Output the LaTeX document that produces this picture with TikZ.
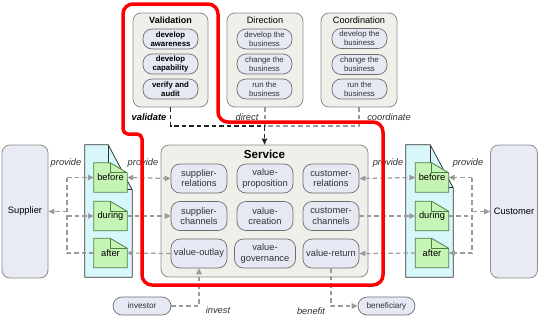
\documentclass[tikz,border=0pt]{standalone}
\usepackage{fontspec}
\setmainfont{Liberation Sans}
\usetikzlibrary{arrows.meta}
\pgfdeclarelayer{back}\pgfdeclarelayer{mid}
\pgfsetlayers{back,mid,main}
\definecolor{boxfill}{HTML}{F0F0EA}
\definecolor{boxline}{HTML}{8C8C8C}
\definecolor{innerfill}{HTML}{E6E9F4}
\definecolor{innerline}{HTML}{6E6E6E}
\definecolor{actfill}{HTML}{E8EBF4}
\definecolor{bigdocfill}{HTML}{D8F7FB}
\definecolor{smalldocfill}{HTML}{C6F4B4}
\definecolor{smalldocline}{HTML}{4F7F45}
\definecolor{conn}{HTML}{9A9A9A}
\definecolor{txt}{HTML}{333333}
\definecolor{redline}{HTML}{FF0000}
\newcommand\mydoc[4]{%
  \draw[#4] (#1.north west) -- ([xshift=-#2]#1.north east) -- ([yshift=-#3]#1.north east) -- (#1.south east) -- (#1.south west) -- cycle;
  \draw[#4,fill=none] ([xshift=-#2]#1.north east) |- ([yshift=-#3]#1.north east);}
\tikzset{
  fnt/.style={font=\fontsize{9.3}{10.3}\selectfont},
  smallfnt/.style={font=\fontsize{7.8}{9.2}\selectfont},
  outerbox/.style={draw=boxline, fill=boxfill, rounded corners=8pt, line width=0.8pt},
  svcitem/.style={draw=innerline, fill=innerfill, rounded corners=9pt, line width=0.7pt,
    minimum width=56pt, minimum height=29pt, inner sep=1pt, align=center, fnt, text=txt},
  topitem/.style={draw=innerline, fill=innerfill, rounded corners=9pt, line width=0.7pt,
    minimum width=55pt, minimum height=20pt, inner sep=0.5pt, align=center, smallfnt, text=txt},
  actor/.style={draw=boxline, fill=actfill, rounded corners=8pt, line width=0.8pt,
    minimum width=46pt, minimum height=133pt, fnt, text=black},
  party/.style={draw=innerline, fill=innerfill, rounded corners=9pt, line width=0.7pt,
    minimum width=58pt, minimum height=18pt, inner sep=0pt, font=\fontsize{8.2}{9}\selectfont, text=txt},
  docnode/.style={minimum width=33pt, minimum height=29pt, inner sep=0pt, fnt, text=black},
  bigdocnode/.style={minimum width=47pt, minimum height=132pt, inner sep=0pt},
  bigdocshape/.style={fill=bigdocfill, draw=black!80, line width=0.8pt},
  smalldocshape/.style={fill=smalldocfill, draw=smalldocline, line width=0.8pt},
  gline/.style={draw=conn, line width=1.2pt, dash pattern=on 4.5pt off 3pt},
  kline/.style={draw=black!85, line width=1.2pt, dash pattern=on 4.5pt off 3pt},
  tip/.tip={Triangle[length=6pt,width=5.5pt]},
  lbl/.style={fnt, font=\fontsize{9.3}{10.3}\selectfont\itshape, text=txt, inner sep=0pt},
  title/.style={inner sep=0pt, text=black}
}
\begin{document}
\begin{tikzpicture}[x=1pt,y=-1pt]
\useasboundingbox (0,0) rectangle (539,317);
% top boxes
\node[outerbox, minimum width=75pt, minimum height=94pt] (val) at (170.5,60) {};
\node[outerbox, minimum width=76pt, minimum height=94pt] (dir) at (265,60) {};
\node[outerbox, minimum width=76pt, minimum height=94pt] (coo) at (359,60) {};
\node[title, font=\fontsize{9}{10}\selectfont\bfseries] (valt) at (170.5,20) {Validation};
\node[title, font=\fontsize{9.2}{10}\selectfont] (dirt) at (265,20) {Direction};
\node[title, font=\fontsize{9.2}{10}\selectfont] (coot) at (359,20) {Coordination};
\node[topitem, font=\fontsize{7.8}{9.2}\selectfont\bfseries, text=black] (v1) at (170.5,39) {develop\\awareness};
\node[topitem, font=\fontsize{7.8}{9.2}\selectfont\bfseries, text=black] (v2) at (170.5,64) {develop\\capability};
\node[topitem, font=\fontsize{7.8}{9.2}\selectfont\bfseries, text=black] (v3) at (170.5,89) {verify and\\audit};
\node[topitem] (d1) at (264.5,39) {develop the\\business};
\node[topitem] (d2) at (264.5,64) {change the\\business};
\node[topitem] (d3) at (264.5,89) {run the\\business};
\node[topitem] (c1) at (359.5,38.5) {develop the\\business};
\node[topitem] (c2) at (359.5,64.5) {change the\\business};
\node[topitem] (c3) at (359.5,89) {run the\\business};
% service
\node[outerbox, minimum width=207pt, minimum height=132pt] (svc) at (264.5,211) {};
\node[title, font=\fontsize{11.6}{12}\selectfont\bfseries] (svct) at (264.5,154) {Service};
\node[svcitem] (sr) at (199,178.5) {supplier-\\relations};
\node[svcitem] (vp) at (265,178.5) {value-\\proposition};
\node[svcitem] (cr) at (331,178.5) {customer-\\relations};
\node[svcitem] (sc) at (199,216) {supplier-\\channels};
\node[svcitem] (vc) at (265,216) {value-\\creation};
\node[svcitem] (cc) at (331,216) {customer-\\channels};
\node[svcitem] (vo) at (199,253.5) {value-outlay};
\node[svcitem, minimum width=61pt] (vg) at (265,253.5) {value-\\governance};
\node[svcitem] (vr) at (331,253.5) {value-return};
% actors
\node[actor] (sup) at (25,211.5) {Supplier};
\node[actor] (cus) at (514,211.5) {Customer};
% documents
\node[bigdocnode] (ldoc) at (108.5,211) {};
\node[bigdocnode] (rdoc) at (429.5,211) {};
\node[docnode] (lbefore) at (110.5,177.5) {before};
\node[docnode] (lduring) at (110.5,216) {during};
\node[docnode] (lafter) at (110.5,253) {after};
\node[docnode] (rbefore) at (432,177.5) {before};
\node[docnode] (rduring) at (432,216) {during};
\node[docnode] (rafter) at (432,253) {after};
\begin{pgfonlayer}{back}
  \mydoc{ldoc}{24pt}{45pt}{bigdocshape}
  \mydoc{rdoc}{23pt}{43pt}{bigdocshape}
\end{pgfonlayer}
\begin{pgfonlayer}{mid}
  \mydoc{lbefore}{17pt}{10pt}{smalldocshape}
  \mydoc{lduring}{17pt}{10pt}{smalldocshape}
  \mydoc{lafter}{17pt}{10pt}{smalldocshape}
  \mydoc{rbefore}{17pt}{10pt}{smalldocshape}
  \mydoc{rduring}{17pt}{10pt}{smalldocshape}
  \mydoc{rafter}{17pt}{10pt}{smalldocshape}
\end{pgfonlayer}
% parties
\node[party] (inv) at (142,306) {investor};
\node[party, minimum width=57pt] (ben) at (386.5,306) {beneficiary};
% junction coordinates
\coordinate (ljb) at (67,177.5);
\coordinate (ljd) at (67,216);
\coordinate (lja) at (67,253);
\coordinate (ljs) at (67,211.5);
\coordinate (rjb) at (472,177.5);
\coordinate (rjd) at (472,216);
\coordinate (rja) at (472,253);
\coordinate (rjs) at (472,211.5);
\coordinate (tj) at (264.5,126);
% left connectors
\draw[gline] (ljb) -- (lja);
\draw[gline,-tip] (ljb) -- (lbefore.west);
\draw[gline,-tip] (ljd) -- (lduring.west);
\draw[gline] (lafter.west) -- (lja);
\draw[gline,-tip] (ljs) -- (sup.east);
\draw[gline,tip-tip] (lbefore.east) -- (sr.west);
\draw[gline,-tip] (lduring.east) -- (sc.west);
\draw[gline,-tip] (vo.west) -- (lafter.east);
% right connectors
\draw[gline,tip-tip] (cr.east) -- (rbefore.west);
\draw[gline,-tip] (cc.east) -- (rduring.west);
\draw[gline,-tip] (rafter.west) -- (vr.east);
\draw[gline] (rjb) -- (rja);
\draw[gline,-tip] (rjb) -- (rbefore.east);
\draw[gline] (rduring.east) -- (rjd);
\draw[gline,-tip] (rja) -- (rafter.east);
\draw[gline,-tip] (rjs) -- (cus.west);
% top connectors
\draw[gline] (dir.south) -- (dir.south |- tj);
\draw[gline] (coo.south) |- (tj);
\draw[kline] (val.south) |- (tj);
\draw[kline,-tip] (tj) -- (svc.north);
% bottom connectors
\draw[gline,-tip] (inv.east) -| (vo.south);
\draw[gline,-tip] (vr.south) |- (ben.west);
% labels
\node[lbl, font=\fontsize{9.3}{10.3}\selectfont\bfseries\itshape, text=black] (lvalidate) at (149,117) {validate};
\node[lbl] (ldirect) at (247,117) {direct};
\node[lbl] (lcoord) at (389,117) {coordinate};
\node[lbl] (lp1) at (66,163) {provide};
\node[lbl] (lp2) at (143,163) {provide};
\node[lbl] (lp3) at (388,163) {provide};
\node[lbl] (lp4) at (468,163) {provide};
\node[lbl] (linvest) at (218,310) {invest};
\node[lbl] (lbenefit) at (311,311) {benefit};
% red outline
\draw[redline, line width=3.5pt, rounded corners=10pt]
  (123,4) -- (218,4) -- (218,122) -- (383,122) -- (383,285) -- (142,285)
  [rounded corners=5pt] -- (142,134) -- (123,134) [rounded corners=10pt] -- cycle;
\end{tikzpicture}
\end{document}
